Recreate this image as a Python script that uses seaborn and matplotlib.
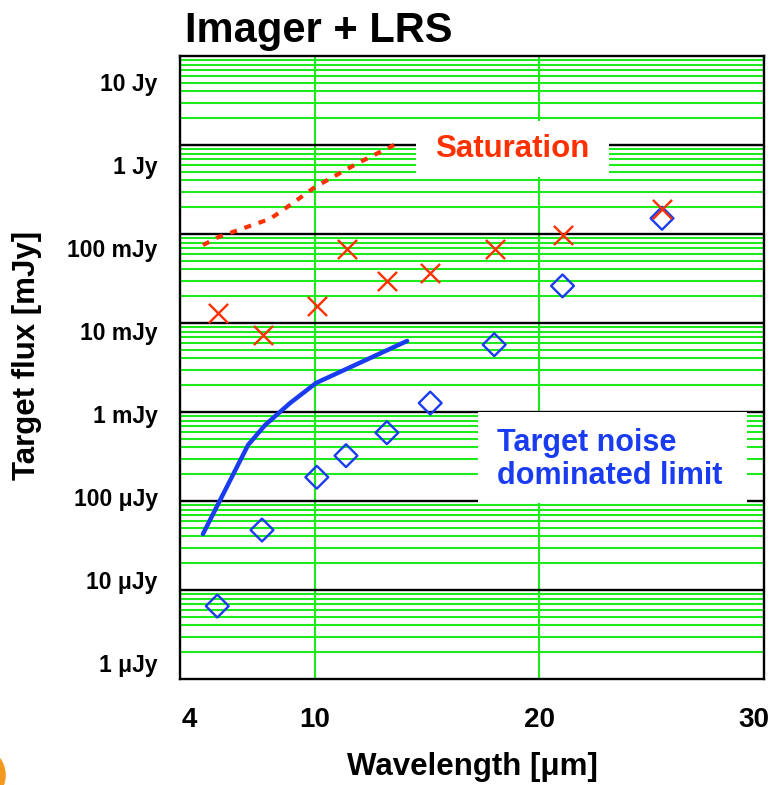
import numpy as np
import pandas as pd
import seaborn as sns
import matplotlib.pyplot as plt
from matplotlib.ticker import LogLocator, NullFormatter
from matplotlib.patches import Rectangle, Circle
from matplotlib.transforms import ScaledTranslation

# Saturation limit (dashed curve) and saturation points, flux in mJy
sat_wl = [5.02, 5.69, 8.01, 8.59, 10.01, 11.93, 13.80]
sat_flux = [75, 92, 148, 186, 337, 628, 1080]
sat_pt_wl = [5.71, 7.68, 10.12, 11.43, 13.23, 15.14, 18.03, 21.07, 25.48]
sat_pt_flux = [12.9, 7.3, 15.5, 67.8, 29.9, 36.7, 67.3, 96.6, 191]

# Target-noise dominated limit (solid curve) and points, flux in mJy
noise_wl = [5.02, 7.03, 7.79, 8.90, 10.06, 14.11]
noise_flux = [0.0426, 0.426, 0.714, 1.26, 2.12, 6.28]
noise_pt_wl = [5.66, 7.65, 10.09, 11.39, 13.21, 15.14, 17.99, 21.03, 25.46]
noise_pt_flux = [0.0066, 0.0472, 0.185, 0.323, 0.585, 1.26, 5.70, 26.1, 150]

x_ticks = [4, 10, 20, 30]
y_tick_labels = ["10 Jy", "1 Jy", "100 mJy", "10 mJy", "1 mJy",
                 "100 \u03bcJy", "10 \u03bcJy", "1 \u03bcJy"]

RED = "#ff3000"
BLUE = "#1a3cf0"
GREEN = "#1eea1e"

sns.set_theme(style="white")
plt.rcParams["font.family"] = ["Liberation Sans", "DejaVu Sans"]
plt.rcParams["font.weight"] = "bold"
for key in ["text.color", "axes.labelcolor", "xtick.color", "ytick.color"]:
    plt.rcParams[key] = "black"

fig = plt.figure(figsize=(7.72, 7.85), dpi=100)
ax = fig.add_axes([0.2332, 0.1350, 0.7564, 0.7937])

ax.set_yscale("log")
ax.set_xlim(4, 30)
ax.set_ylim(1e-3, 1e4)

# grid: green log-minor lines, black decade lines, green verticals
ax.yaxis.set_minor_locator(LogLocator(base=10, subs=np.arange(2, 10), numticks=100))
ax.yaxis.set_minor_formatter(NullFormatter())
ax.yaxis.grid(True, which="minor", color=GREEN, linewidth=1.5, zorder=0)
ax.yaxis.grid(False, which="major")
ax.xaxis.grid(True, which="major", color=GREEN, linewidth=1.5, zorder=0)
ax.set_axisbelow(True)
for d in range(-2, 4):
    ax.axhline(10.0 ** d, color="black", linewidth=1.7, zorder=1)

# white label boxes laid over the grid
ax.add_patch(Rectangle((0.404, 0.8058), 0.3306, 0.0899, transform=ax.transAxes,
                       facecolor="white", edgecolor="none", zorder=1.5))
ax.add_patch(Rectangle((0.5103, 0.2825), 0.4606, 0.1461, transform=ax.transAxes,
                       facecolor="white", edgecolor="none", zorder=1.5))

sat_df = pd.DataFrame({"wl": sat_wl, "flux": sat_flux})
noise_df = pd.DataFrame({"wl": noise_wl, "flux": noise_flux})

sns.lineplot(data=sat_df, x="wl", y="flux", ax=ax, color=RED, linewidth=3,
             sort=False, estimator=None, zorder=3)
ax.lines[-1].set_dashes((1.7, 1.9))
sns.lineplot(data=noise_df, x="wl", y="flux", ax=ax, color=BLUE, linewidth=3.2,
             sort=False, estimator=None, zorder=3)

sns.scatterplot(x=noise_pt_wl, y=noise_pt_flux, ax=ax, marker="D", s=135,
                facecolor="none", edgecolor=BLUE, linewidth=1.7, zorder=4)
sns.scatterplot(x=sat_pt_wl, y=sat_pt_flux, ax=ax, marker="x", s=190,
                color=RED, linewidth=1.7, zorder=5)

ax.text(0.5685, 0.8507, "Saturation", transform=ax.transAxes, color=RED,
        fontsize=22.5, fontweight="bold", ha="center", va="center", zorder=6)
ax.text(0.5428, 0.3523, "Target noise\ndominated limit", transform=ax.transAxes,
        color=BLUE, fontsize=22, fontweight="bold", ha="left", va="center",
        linespacing=1.15, zorder=6)

# axes, ticks and labels
ax.set_xticks(x_ticks)
ax.set_xticklabels([str(t) for t in x_ticks], fontsize=20, fontweight="bold")
label_frac = np.linspace(0.9583, 0.0257, len(y_tick_labels))
ax.set_yticks(10.0 ** (-3 + 7 * label_frac))
ax.set_yticklabels(y_tick_labels, fontsize=16.5, fontweight="bold")
ax.tick_params(axis="both", which="both", length=0)
ax.tick_params(axis="x", pad=20)
ax.tick_params(axis="y", pad=16)

# nudge the end labels inward so they sit inside the frame edges
xlabels = ax.get_xticklabels()
xlabels[0].set_transform(xlabels[0].get_transform()
                         + ScaledTranslation(9 / 100, 0, fig.dpi_scale_trans))
xlabels[-1].set_transform(xlabels[-1].get_transform()
                          + ScaledTranslation(-10 / 100, 0, fig.dpi_scale_trans))

for side in ["left", "right", "top", "bottom"]:
    ax.spines[side].set_visible(True)
    ax.spines[side].set_color("black")
    ax.spines[side].set_linewidth(1.7)
    ax.spines[side].set_zorder(7)

ax.set_xlabel("Wavelength [\u03bcm]", fontsize=22.5, fontweight="bold", labelpad=14)
ax.set_ylabel("Target flux [mJy]", fontsize=22.5, fontweight="bold", labelpad=18)
ax.yaxis.label.set_y(0.52)
ax.text(0.008, 1.0225, "Imager + LRS", transform=ax.transAxes, fontsize=30,
        fontweight="bold", ha="left", va="baseline")

fig.add_artist(Circle((-0.0285, 0.0127), 0.036, transform=fig.transFigure,
                      facecolor="#f39a1e", edgecolor="none"))

fig.savefig("out.png", dpi=100)
